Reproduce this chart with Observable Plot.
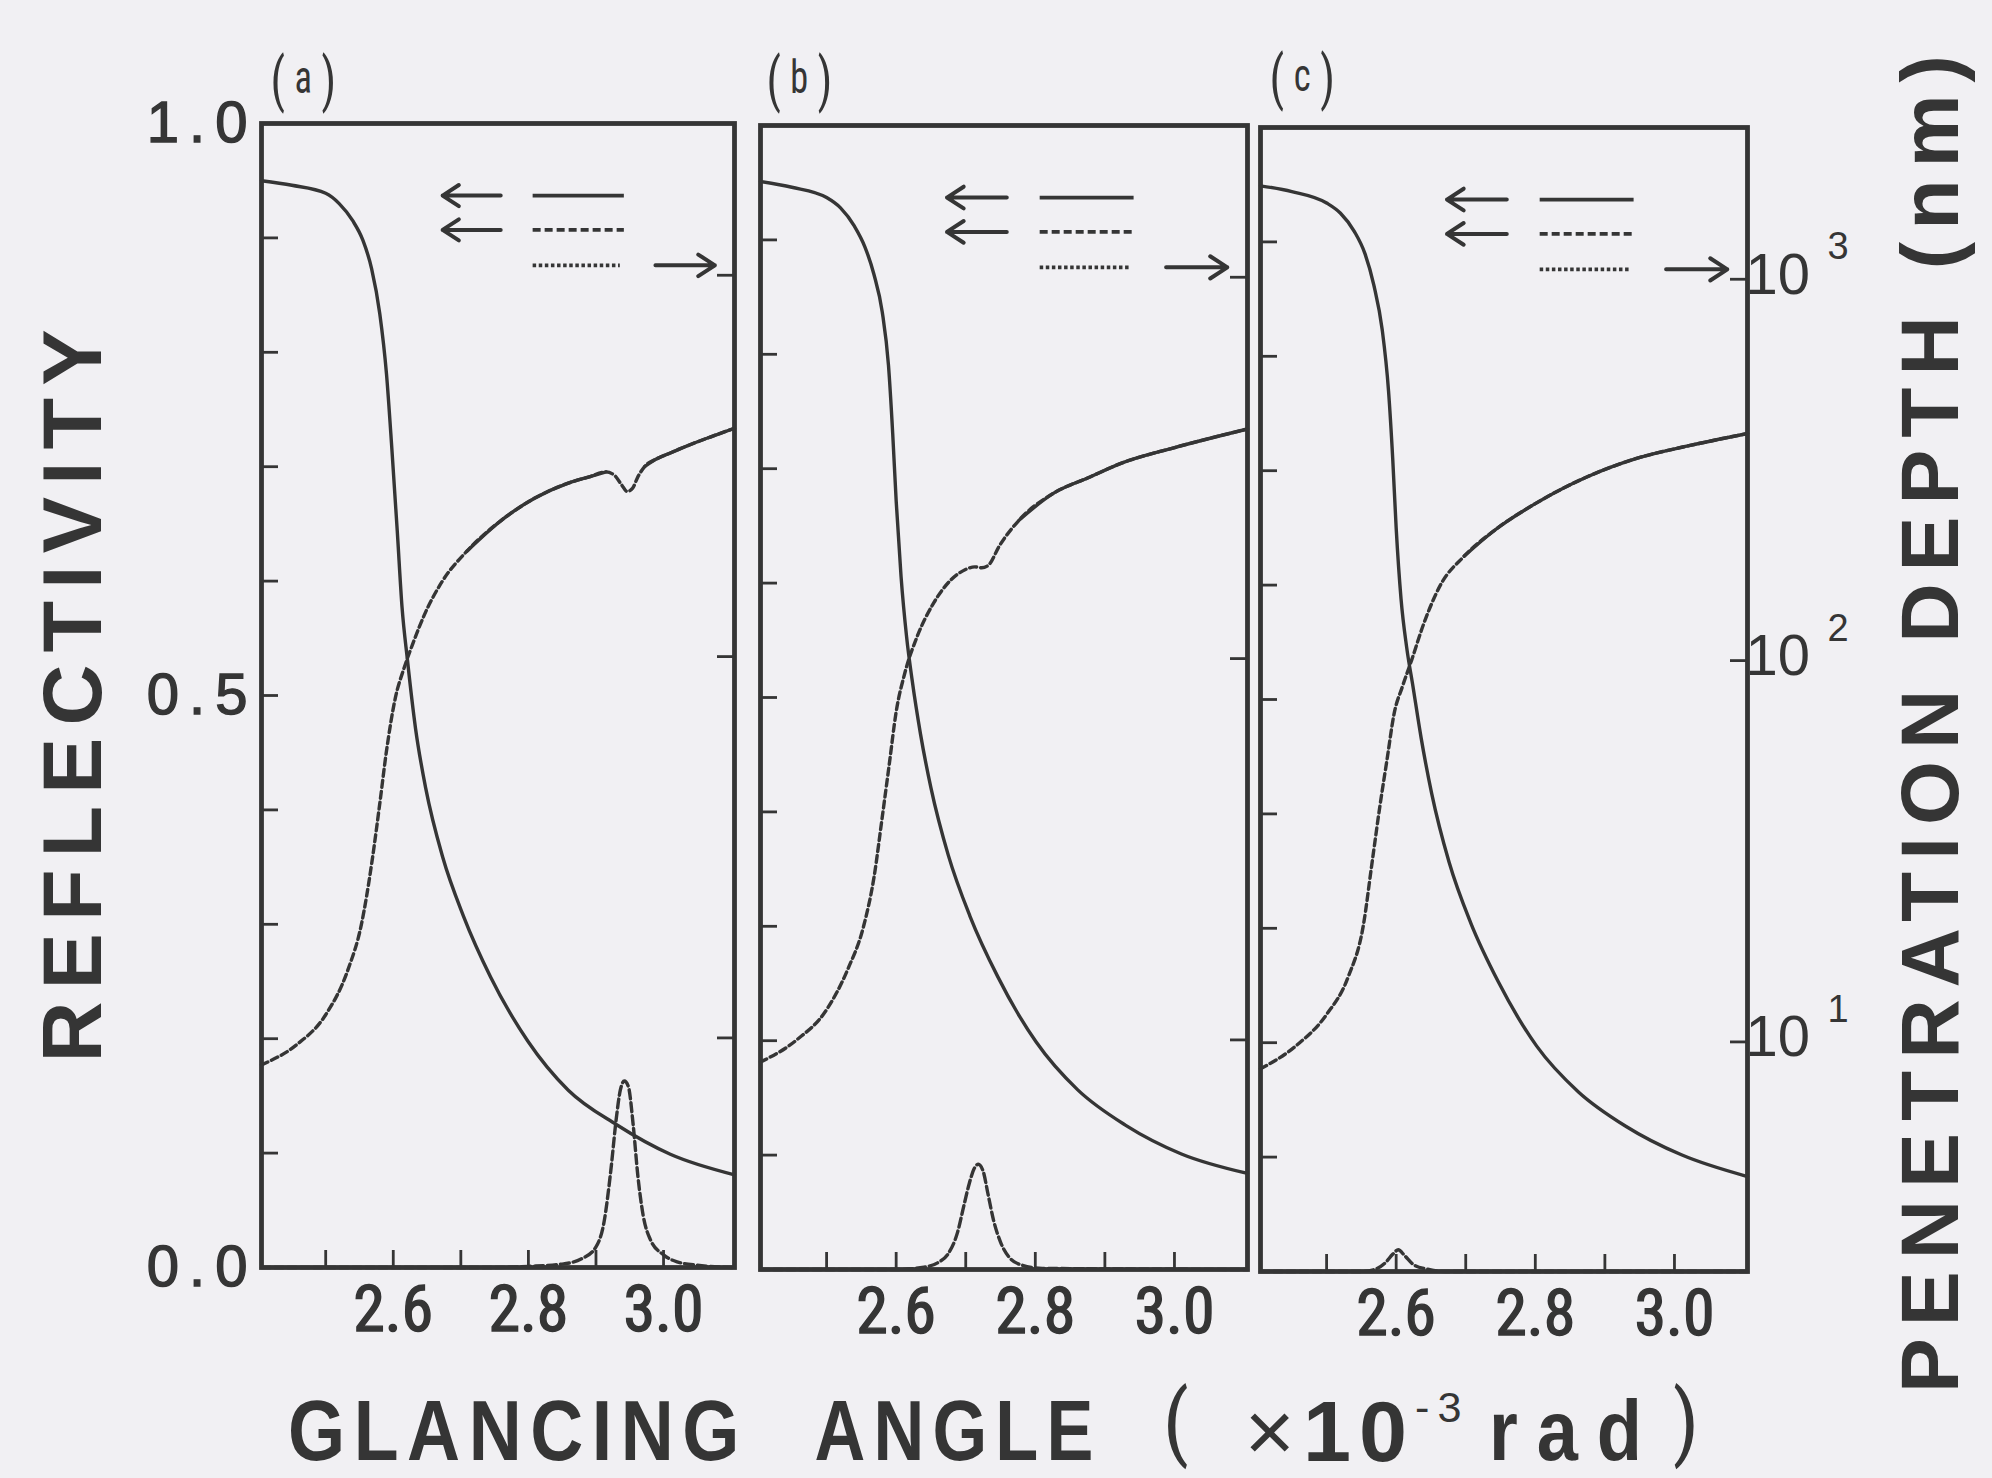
<!DOCTYPE html>
<html>
<head>
<meta charset="utf-8">
<script src="https://cdn.jsdelivr.net/npm/d3@7"></script>
<script src="https://cdn.jsdelivr.net/npm/@observablehq/plot@0.6"></script>
<style>
  html, body { margin: 0; padding: 0; background: #f1f0f3; }
  #fig { position: relative; width: 1992px; height: 1478px; overflow: hidden; background: #f1f0f3; }
  #fig svg { position: absolute; }
  .label { position: absolute; white-space: nowrap; line-height: 1; transform-origin: 50% 50%; }
</style>
</head>
<body>
<div id="fig"></div>
<script>
// ---------- axes ----------
// glancing angle (×10^-3 rad)
const angleDomain = [2.405, 3.105];
const angleTicks = [2.5, 2.6, 2.7, 2.8, 2.9, 3.0];
const angleLabels = [2.6, 2.8, 3.0];
// reflectivity (left axis)
const reflTicks = [0.1, 0.2, 0.3, 0.4, 0.5, 0.6, 0.7, 0.8, 0.9];
const reflLabels = [0, 0.5, 1];
// penetration depth in nm (right axis, logarithmic)
const depthDomain = [2.5, 2500];
const depthTicks = [10, 100, 1000];

// ---------- panel (a) ----------
const reflA_x = [2.405, 2.45, 2.50, 2.52, 2.54, 2.555, 2.568, 2.58, 2.59, 2.598, 2.606, 2.613, 2.621, 2.633, 2.648, 2.673, 2.704, 2.744, 2.799, 2.859, 2.93, 3.01, 3.105];
const reflA   = [0.950, 0.946, 0.939, 0.930, 0.915, 0.898, 0.873, 0.834, 0.781, 0.715, 0.643, 0.577, 0.531, 0.471, 0.419, 0.359, 0.307, 0.254, 0.198, 0.155, 0.125, 0.099, 0.081];
const depthA_x = [2.405, 2.457, 2.50, 2.533, 2.553, 2.568, 2.58, 2.59, 2.603, 2.616, 2.628, 2.648, 2.673, 2.709, 2.759, 2.809, 2.859, 2.89, 2.915, 2.928, 2.938, 2.946, 2.954, 2.962, 2.972, 2.99, 3.01, 3.035, 3.07, 3.105];
const depthA   = [8.5, 9.6, 11.5, 15.1, 19.9, 28.6, 41.1, 56.6, 77.8, 93.3, 107, 131, 158, 189, 227, 260, 285, 296, 305, 298, 282, 271, 276, 296, 315, 330, 342, 357, 377, 397];
const peakA_x = [2.405, 2.75, 2.80, 2.85, 2.88, 2.90, 2.912, 2.922, 2.93, 2.936, 2.942, 2.948, 2.955, 2.962, 2.97, 2.98, 3.0, 3.02, 3.05, 3.105];
const peakA   = [0, 0, 0.001, 0.003, 0.008, 0.018, 0.040, 0.085, 0.130, 0.155, 0.163, 0.158, 0.125, 0.080, 0.045, 0.025, 0.011, 0.005, 0.002, 0];

// ---------- panel (b) ----------
const reflB_x = [2.405, 2.45, 2.50, 2.52, 2.54, 2.555, 2.568, 2.58, 2.589, 2.595, 2.60, 2.607, 2.615, 2.623, 2.635, 2.65, 2.675, 2.706, 2.746, 2.801, 2.861, 2.93, 3.01, 3.105];
const reflB   = [0.951, 0.946, 0.937, 0.928, 0.912, 0.894, 0.870, 0.837, 0.790, 0.731, 0.672, 0.606, 0.553, 0.515, 0.468, 0.421, 0.362, 0.309, 0.256, 0.199, 0.157, 0.126, 0.101, 0.084];
const depthB_x = [2.405, 2.457, 2.50, 2.531, 2.553, 2.568, 2.58, 2.59, 2.60, 2.612, 2.63, 2.654, 2.679, 2.699, 2.713, 2.723, 2.733, 2.748, 2.777, 2.827, 2.876, 2.925, 2.999, 3.105];
const depthB   = [8.75, 10.0, 12.0, 15.4, 19.8, 26.6, 38.4, 52.7, 72.5, 91, 114, 140, 161, 171, 174, 173, 176, 197, 231, 272, 298, 326, 357, 400];
const peakB_x = [2.405, 2.60, 2.64, 2.66, 2.675, 2.688, 2.697, 2.705, 2.712, 2.718, 2.725, 2.732, 2.74, 2.75, 2.762, 2.78, 2.81, 3.105];
const peakB   = [0, 0, 0.002, 0.006, 0.014, 0.032, 0.055, 0.075, 0.088, 0.092, 0.086, 0.066, 0.043, 0.024, 0.011, 0.004, 0.001, 0];

// ---------- panel (c) ----------
const reflC_x = [2.405, 2.45, 2.50, 2.52, 2.54, 2.555, 2.568, 2.58, 2.589, 2.595, 2.60, 2.607, 2.615, 2.624, 2.636, 2.651, 2.676, 2.707, 2.747, 2.802, 2.862, 2.93, 3.01, 3.105];
const reflC   = [0.949, 0.944, 0.934, 0.925, 0.909, 0.890, 0.862, 0.823, 0.770, 0.711, 0.650, 0.588, 0.546, 0.512, 0.466, 0.418, 0.358, 0.305, 0.253, 0.197, 0.157, 0.127, 0.102, 0.083];
const depthC_x = [2.405, 2.457, 2.50, 2.531, 2.553, 2.565, 2.577, 2.587, 2.597, 2.609, 2.622, 2.639, 2.663, 2.698, 2.742, 2.80, 2.874, 2.948, 3.021, 3.105];
const depthC   = [8.5, 9.8, 11.8, 14.8, 20.3, 29.2, 42.0, 55.2, 72.5, 85.5, 100, 124, 157, 188, 220, 258, 303, 340, 366, 394];
const peakC_x = [2.405, 2.55, 2.57, 2.585, 2.595, 2.603, 2.612, 2.625, 2.645, 2.67, 3.105];
const peakC   = [0, 0, 0.002, 0.008, 0.015, 0.019, 0.014, 0.006, 0.002, 0, 0];

// ---------- key (arrows show which axis each line style reads on) ----------
const keyRows = [0.937, 0.907, 0.876];
const keyLeftArrow = [2.759, 2.673];
const keyLine = [2.807, 2.942];
const keyRightArrow = [2.988, 3.076];

// ---------- drawing ----------
const INK = "#353535";
const SANS = '"Liberation Sans", Arial, sans-serif';
const NARROW = '"Liberation Sans Narrow", "Roboto Condensed", "DejaVu Sans Condensed", "Liberation Sans", sans-serif';
const TICK = 17;
const INNER_H = 1144;
const M = {top: 20, right: 160, bottom: 110, left: 210};
const depthPos = d3.scaleLog().domain(depthDomain).range([0, 1]);

const panels = [
  {id: "a", left: 261, right: 734, top: 123, reflX: reflA_x, refl: reflA, depthX: depthA_x, depth: depthA, peakX: peakA_x, peak: peakA,
   dotted: [[2.405, 2.70], [2.925, 2.968]], leftLabels: true, rightLabels: false},
  {id: "b", left: 760, right: 1247, top: 125, reflX: reflB_x, refl: reflB, depthX: depthB_x, depth: depthB, peakX: peakB_x, peak: peakB,
   dotted: [[2.405, 2.75]], leftLabels: false, rightLabels: false},
  {id: "c", left: 1260, right: 1747, top: 127, reflX: reflC_x, refl: reflC, depthX: depthC_x, depth: depthC, peakX: peakC_x, peak: peakC,
   dotted: [[2.405, 2.69]], leftLabels: false, rightLabels: true}
];

const fig = document.getElementById("fig");
const pts = (xs, ys) => xs.map((x, i) => ({x, y: ys[i]}));

// printed digits carry a little extra ink
function embolden(svg, selector, width) {
  svg.querySelectorAll(selector).forEach(t => {
    t.setAttribute("stroke", INK);
    t.setAttribute("stroke-width", width);
    t.setAttribute("paint-order", "stroke");
  });
}

for (const p of panels) {
  const innerW = p.right - p.left;
  const refl = pts(p.reflX, p.refl);
  const peak = pts(p.peakX, p.peak);
  const depth = pts(p.depthX, p.depth);

  // the depth curve prints dotted where it climbs steeply and merges to a solid line where it is flat
  const solidSpans = [];
  let s = angleDomain[0];
  for (const [a, b] of p.dotted) { if (a > s) solidSpans.push([s, a]); s = b; }
  if (s < angleDomain[1]) solidSpans.push([s, angleDomain[1]]);
  const solid = depth
    .map(d => ({...d, seg: solidSpans.findIndex(([a, b]) => d.x >= a && d.x <= b)}))
    .filter(d => d.seg >= 0);

  const line = {curve: "monotone-x", stroke: INK, strokeWidth: 3.4, strokeLinejoin: "round"};
  const keyArrow = {y1: d => d, y2: d => d, stroke: INK, strokeWidth: 4, headLength: 18, headAngle: 66};
  const keyRule = {x1: () => keyLine[0], x2: () => keyLine[1], y: d => d, stroke: INK, strokeWidth: 3.8};

  const marks = [
    // inward ticks
    Plot.ruleX(angleTicks, {x: d => d, insetTop: INNER_H - TICK, stroke: INK, strokeWidth: 2.8}),
    Plot.ruleY(reflTicks, {y: d => d, insetRight: innerW - TICK, stroke: INK, strokeWidth: 2.8}),
    Plot.ruleY(depthTicks, {y: d => depthPos(d), insetLeft: innerW - TICK, stroke: INK, strokeWidth: 2.8}),
    Plot.axisX(angleLabels, {anchor: "bottom", tickSize: 0, tickPadding: 18, tickFormat: d3.format(".1f"),
                             fontSize: 64, fontFamily: NARROW, label: null}),
    // curves
    Plot.line(peak, {x: "x", y: "y", ...line, strokeDasharray: "9,4"}),
    Plot.line(depth, {x: "x", y: d => depthPos(d.y), ...line, strokeDasharray: "7,4"}),
    Plot.line(solid, {x: "x", y: d => depthPos(d.y), z: "seg", ...line}),
    Plot.line(refl, {x: "x", y: "y", ...line}),
    // key
    Plot.arrow(keyRows.slice(0, 2), {x1: () => keyLeftArrow[0], x2: () => keyLeftArrow[1], ...keyArrow}),
    Plot.arrow(keyRows.slice(2), {x1: () => keyRightArrow[0], x2: () => keyRightArrow[1], ...keyArrow}),
    Plot.ruleY(keyRows.slice(0, 1), keyRule),
    Plot.ruleY(keyRows.slice(1, 2), {...keyRule, strokeDasharray: "8,4"}),
    Plot.ruleY(keyRows.slice(2), {...keyRule, x2: () => keyLine[1] - 0.006, strokeDasharray: "3.5,2.6"}),
    Plot.frame({stroke: INK, strokeWidth: 4.8})
  ];
  if (p.leftLabels) {
    marks.push(Plot.axisY(reflLabels, {anchor: "left", tickSize: 0, tickPadding: 4, tickFormat: d3.format(".1f"),
                                       fontSize: 58, fontFamily: SANS, label: null}));
  }
  if (p.rightLabels) {
    marks.push(
      Plot.text(depthTicks, {x: () => angleDomain[1], y: d => depthPos(d), text: () => "10", textAnchor: "start",
                             dx: -2, dy: -4, fontSize: 58, fontFamily: SANS, fill: INK, ariaLabel: "depth tick label"}),
      Plot.text(depthTicks, {x: () => angleDomain[1], y: d => depthPos(d), text: d => String(Math.round(Math.log10(d))),
                             textAnchor: "start", dx: 80, dy: -32, fontSize: 38, fontFamily: SANS, fill: INK,
                             ariaLabel: "depth tick exponent"})
    );
  }

  const svg = Plot.plot({
    width: innerW + M.left + M.right,
    height: INNER_H + M.top + M.bottom,
    marginLeft: M.left, marginRight: M.right, marginTop: M.top, marginBottom: M.bottom,
    x: {domain: angleDomain, axis: null, label: null},
    y: {domain: [0, 1], axis: null, label: null},
    style: {background: "transparent", overflow: "visible", color: INK, fontFamily: SANS},
    marks
  });
  svg.style.left = (p.left - M.left) + "px";
  svg.style.top = (p.top - M.top) + "px";
  svg.querySelectorAll('[aria-label="y-axis tick label"] text').forEach(t => t.style.letterSpacing = "10px");
  embolden(svg, '[aria-label="y-axis tick label"] text', 1.4);
  embolden(svg, '[aria-label="x-axis tick label"] text', 1.4);
  embolden(svg, '[aria-label="depth tick label"] text', 1.4);
  embolden(svg, '[aria-label="depth tick exponent"] text', 0.8);
  fig.appendChild(svg);
}

// ---------- titles ----------
function fitLabel(html, {cx, cy, length = null, rotate = 0, size, spacing = 0, weight = "bold", family = SANS}) {
  const el = document.createElement("div");
  el.className = "label";
  el.innerHTML = html;
  Object.assign(el.style, {left: cx + "px", top: cy + "px", fontSize: size + "px", letterSpacing: spacing + "px",
                           fontWeight: weight, fontFamily: family, color: INK});
  fig.appendChild(el);
  const k = length ? length / el.getBoundingClientRect().width : 1;
  el.style.transform = `translate(-50%, -50%) rotate(${rotate}deg) scaleX(${k})`;
  return el;
}

fitLabel("REFLECTIVITY", {cx: 72, cy: 690, length: 745, rotate: -90, size: 84, spacing: 12});
fitLabel("PENETRATION DEPTH (nm)", {cx: 1930, cy: 718, length: 1350, rotate: -90, size: 82, spacing: 12});

fitLabel("GLANCING", {cx: 518, cy: 1430, length: 460, size: 86, spacing: 10});
fitLabel("ANGLE", {cx: 958, cy: 1430, length: 287, size: 86, spacing: 10});
fitLabel("(", {cx: 1176, cy: 1422, size: 84, weight: "normal", family: NARROW});
fitLabel('<span style="font-weight:normal">×</span>10<sup style="font-size:0.5em;vertical-align:0.9em;font-weight:normal">-3</sup>',
         {cx: 1357, cy: 1430, length: 225, size: 86, spacing: 8});
fitLabel("rad", {cx: 1575, cy: 1430, length: 172, size: 86, spacing: 22});
fitLabel(")", {cx: 1686, cy: 1422, size: 84, weight: "normal", family: NARROW});

const panelTags = [["a", 308, 80], ["b", 804, 80], ["c", 1307, 78]];
for (const [tag, cx, cy] of panelTags) {
  fitLabel(`(<span style="font-size:0.78em;position:relative;top:-0.14em">${tag}</span>)`,
           {cx, cy, length: 75, size: 60, spacing: 12, weight: "normal", family: NARROW});
}
</script>
</body>
</html>
